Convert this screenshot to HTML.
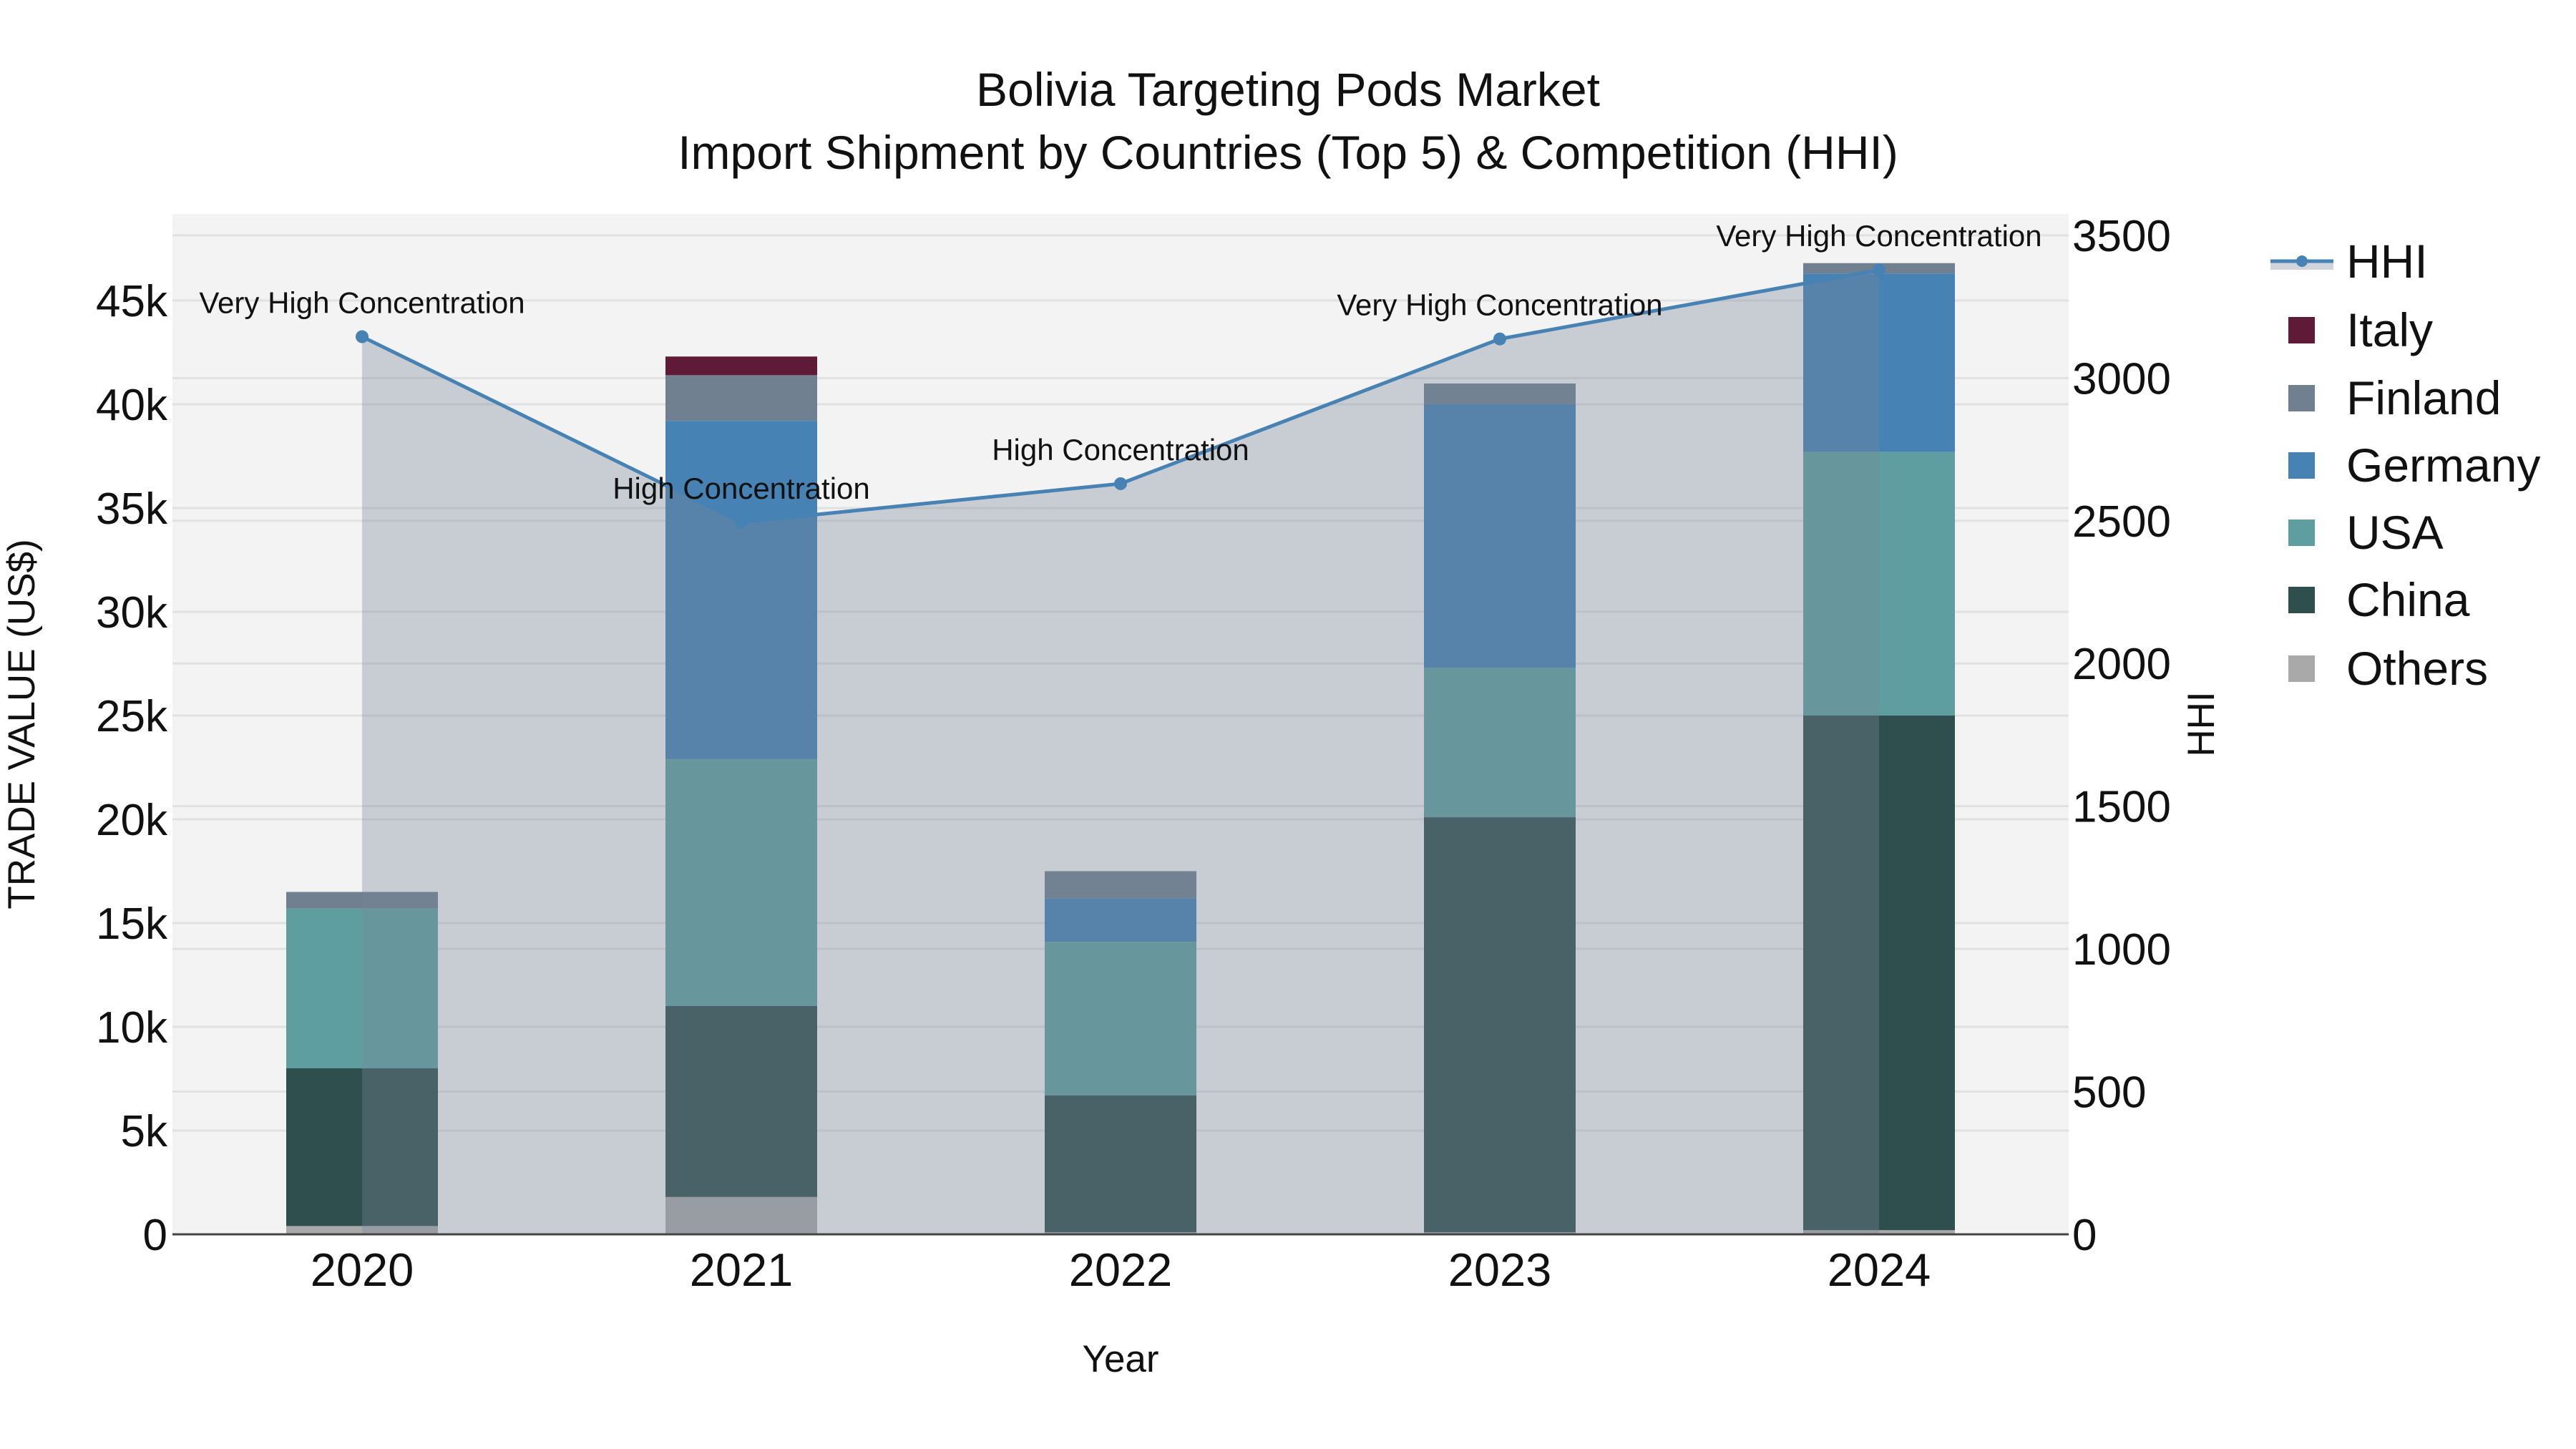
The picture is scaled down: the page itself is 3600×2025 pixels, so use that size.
<!DOCTYPE html>
<html><head><meta charset="utf-8"><style>
html,body{margin:0;padding:0;background:#fff;}
svg{display:block;font-family:"Liberation Sans",Arial,sans-serif;}
</style></head><body>
<svg id="chart" width="3600" height="2025" viewBox="0 0 3600 2025" xmlns="http://www.w3.org/2000/svg">
<rect x="0" y="0" width="3600" height="2025" fill="#ffffff"/>
<rect x="241" y="299" width="2650" height="1426" fill="#f3f3f3"/>
<g id="grid"></g>
<g id="bars"></g>
<g id="hhi"></g>
<line x1="241" y1="1725" x2="2891" y2="1725" stroke="#444" stroke-width="3"/>
<g id="ticks"></g>
<text x="1800" y="148" text-anchor="middle" font-size="66" fill="#111">Bolivia Targeting Pods Market</text>
<text x="1800" y="236" text-anchor="middle" font-size="66" fill="#111">Import Shipment by Countries (Top 5) &amp; Competition (HHI)</text>
<text x="1566" y="1917" text-anchor="middle" font-size="53" fill="#111">Year</text>
<text transform="translate(48,1012) rotate(-90)" text-anchor="middle" font-size="53" fill="#111">TRADE VALUE (US$)</text>
<text transform="translate(3094,1012) rotate(-90)" text-anchor="middle" font-size="53" fill="#111">HHI</text>
<g id="legend"></g>
</svg>
<script>
const years = ["2020","2021","2022","2023","2024"];
const others = [400,1800,100,100,200];
const china = [7600,9200,6600,20000,24800];
const usa = [7700,11900,7400,7200,12700];
const germany = [0,16300,2100,12700,8600];
const finland = [800,2200,1300,1000,500];
const italy = [0,900,0,0,0];
const hhi = [3145,2495,2630,3137,3379];
const hhiLabels = ["Very High Concentration","High Concentration","High Concentration","Very High Concentration","Very High Concentration"];
const yTicks = [0,5000,10000,15000,20000,25000,30000,35000,40000,45000];
const yTickLabels = ["0","5k","10k","15k","20k","25k","30k","35k","40k","45k"];
const y2Ticks = [0,500,1000,1500,2000,2500,3000,3500];

const NS="http://www.w3.org/2000/svg";
const L=241,R=2891,B=1725,T=299;
const yMax=49170, y2Max=3575;
const catW=(R-L)/years.length;
const xC=i=>L+catW*(i+0.5);
const yS=v=>B-(v/yMax)*(B-T);
const y2S=v=>B-(v/y2Max)*(B-T);
function mk(tag,attrs,parent){const e=document.createElementNS(NS,tag);for(const k in attrs)e.setAttribute(k,attrs[k]);parent.appendChild(e);return e;}

const grid=document.getElementById('grid');
yTicks.forEach(v=>{const l=mk('line',{x1:L,x2:R,y1:yS(v),y2:yS(v),stroke:'#e1e1e1','stroke-width':3},grid);

});
y2Ticks.forEach(v=>{const l=mk('line',{x1:L,x2:R,y1:y2S(v),y2:y2S(v),stroke:'#e1e1e1','stroke-width':3},grid);

});

const series=[["Others",others,"#a9a9a9"],["China",china,"#2f4f4f"],["USA",usa,"#5f9ea0"],["Germany",germany,"#4682b4"],["Finland",finland,"#708090"],["Italy",italy,"#5f1a37"]];
const bars=document.getElementById('bars');
const bw=catW*0.4;
years.forEach((yr,i)=>{let base=0;series.forEach(([n,arr,c])=>{const v=arr[i];if(v>0){const r=mk('rect',{x:xC(i)-bw/2,y:yS(base+v),width:bw,height:yS(base)-yS(base+v),fill:c},bars);

}base+=v;});});

const hg=document.getElementById('hhi');
let d='M'+xC(0)+','+B;hhi.forEach((v,i)=>{d+=' L'+xC(i)+','+y2S(v);});d+=' L'+xC(hhi.length-1)+','+B+' Z';
const area=mk('path',{d:d,fill:'rgba(119,136,153,0.35)'},hg);


const line=mk('polyline',{points:hhi.map((v,i)=>xC(i)+','+y2S(v)).join(' '),fill:'none',stroke:'#4682b4','stroke-width':5},hg);


hhi.forEach((v,i)=>{const c=mk('circle',{cx:xC(i),cy:y2S(v),r:9,fill:'#4682b4'},hg);


const t=mk('text',{x:xC(i),y:y2S(v)-33,'text-anchor':'middle','font-size':42,fill:'#111'},hg);t.textContent=hhiLabels[i];

});

const tk=document.getElementById('ticks');
yTicks.forEach((v,i)=>{const t=mk('text',{x:234,y:yS(v)+22,'text-anchor':'end','font-size':62,fill:'#111'},tk);t.textContent=yTickLabels[i];

});
y2Ticks.forEach(v=>{const t=mk('text',{x:2896,y:y2S(v)+22,'text-anchor':'start','font-size':62,fill:'#111'},tk);t.textContent=String(v);

});
years.forEach((yr,i)=>{const t=mk('text',{x:xC(i),y:1797,'text-anchor':'middle','font-size':65,fill:'#111'},tk);t.textContent=yr;

});

const lg=document.getElementById('legend');
const ly=[365,461,556,650,744,838,934];
const g0=mk('g',{},lg);


mk('rect',{x:3173,y:365,width:88,height:12,fill:'rgba(119,136,153,0.35)'},g0);
mk('line',{x1:3173,x2:3261,y1:365,y2:365,stroke:'#4682b4','stroke-width':5},g0);
mk('circle',{cx:3217,cy:365,r:8,fill:'#4682b4'},g0);
const t0=mk('text',{x:3279,y:388,'font-size':66,fill:'#111'},g0);t0.textContent='HHI';
const legOrder=[["Italy","#5f1a37"],["Finland","#708090"],["Germany","#4682b4"],["USA","#5f9ea0"],["China","#2f4f4f"],["Others","#a9a9a9"]];
legOrder.forEach(([n,c],k)=>{const g=mk('g',{},lg);


mk('rect',{x:3198,y:ly[k+1]-18,width:37,height:37,fill:c},g);
const t=mk('text',{x:3279,y:ly[k+1]+23,'font-size':66,fill:'#111'},g);t.textContent=n;});
</script>
</body></html>
